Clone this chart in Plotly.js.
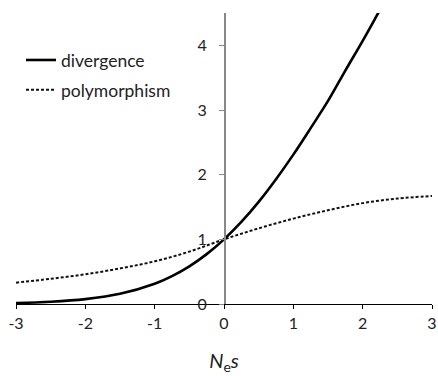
<!DOCTYPE html>
<html><head><meta charset="utf-8">
<script src="https://cdn.plot.ly/plotly-3.0.1.min.js"></script>
<style>html,body{margin:0;padding:0;background:#fff}</style>
</head><body>
<div id="chart" style="width:438px;height:376px"></div>
<script>
var nesValues = [-3, -2.5, -2, -1.5, -1, -0.75, -0.5, -0.25, 0, 0.25, 0.5, 0.75, 1, 1.25, 1.5, 1.75, 2, 2.25, 2.5];
var divergence = [0.015, 0.034, 0.075, 0.157, 0.313, 0.431, 0.582, 0.771, 1.0, 1.27, 1.58, 1.93, 2.31, 2.72, 3.14, 3.61, 4.07, 4.55, 5.03];
var polyX = [-3, -2.5, -2, -1.5, -1, -0.5, 0, 0.5, 1, 1.5, 2, 2.5, 3];
var polymorphism = [0.33, 0.39, 0.46, 0.55, 0.66, 0.81, 1.0, 1.17, 1.32, 1.45, 1.56, 1.63, 1.67];
var xTicks = [-3, -2, -1, 0, 1, 2, 3];
var yTicks = [0, 1, 2, 3, 4];

var font = "Lato, 'Open Sans', sans-serif";
var traces = [
  {x: nesValues, y: divergence, mode: 'lines', name: 'divergence', legendgroup: 'a',
   line: {color: '#000', width: 2.6, shape: 'spline', smoothing: 1}},
  {x: polyX, y: polymorphism, mode: 'lines', name: 'polymorphism', legendgroup: 'b',
   line: {color: '#111', width: 2, dash: '3px,2px', shape: 'spline'}}
];
var layout = {
  width: 438, height: 376,
  margin: {l: 16, r: 6, t: 13, b: 72},
  paper_bgcolor: '#fff', plot_bgcolor: '#fff',
  font: {family: font, size: 16, color: '#222'},
  showlegend: true,
  legend: {x: 0.012, y: 0.90, xanchor: 'left', yanchor: 'top', bgcolor: 'rgba(0,0,0,0)',
           font: {family: font, size: 17.5, color: '#222'}, tracegroupgap: 4, itemwidth: 30},
  xaxis: {range: [-3, 3], tickvals: xTicks, ticktext: xTicks.map(String), showgrid: false, zeroline: false,
          showline: true, linecolor: '#000', linewidth: 1.3, ticks: 'outside', ticklen: 4, tickcolor: '#000',
          tickfont: {family: font, size: 16, color: '#222'},
          title: {text: '<i>N</i><sub>e</sub><i>s</i>', font: {family: font, size: 20, color: '#222'}, standoff: 23}},
  yaxis: {range: [0, 4.5], tickvals: yTicks, showgrid: false, zeroline: false, anchor: 'free', position: 0.5,
          showline: true, linecolor: '#888', linewidth: 1.5, ticks: 'outside', ticklen: 5, tickcolor: '#888',
          ticklabelstandoff: 9, tickfont: {family: font, size: 16, color: '#222'}}
};
Plotly.newPlot('chart', traces, layout, {displayModeBar: false, staticPlot: true});
</script>
</body></html>
